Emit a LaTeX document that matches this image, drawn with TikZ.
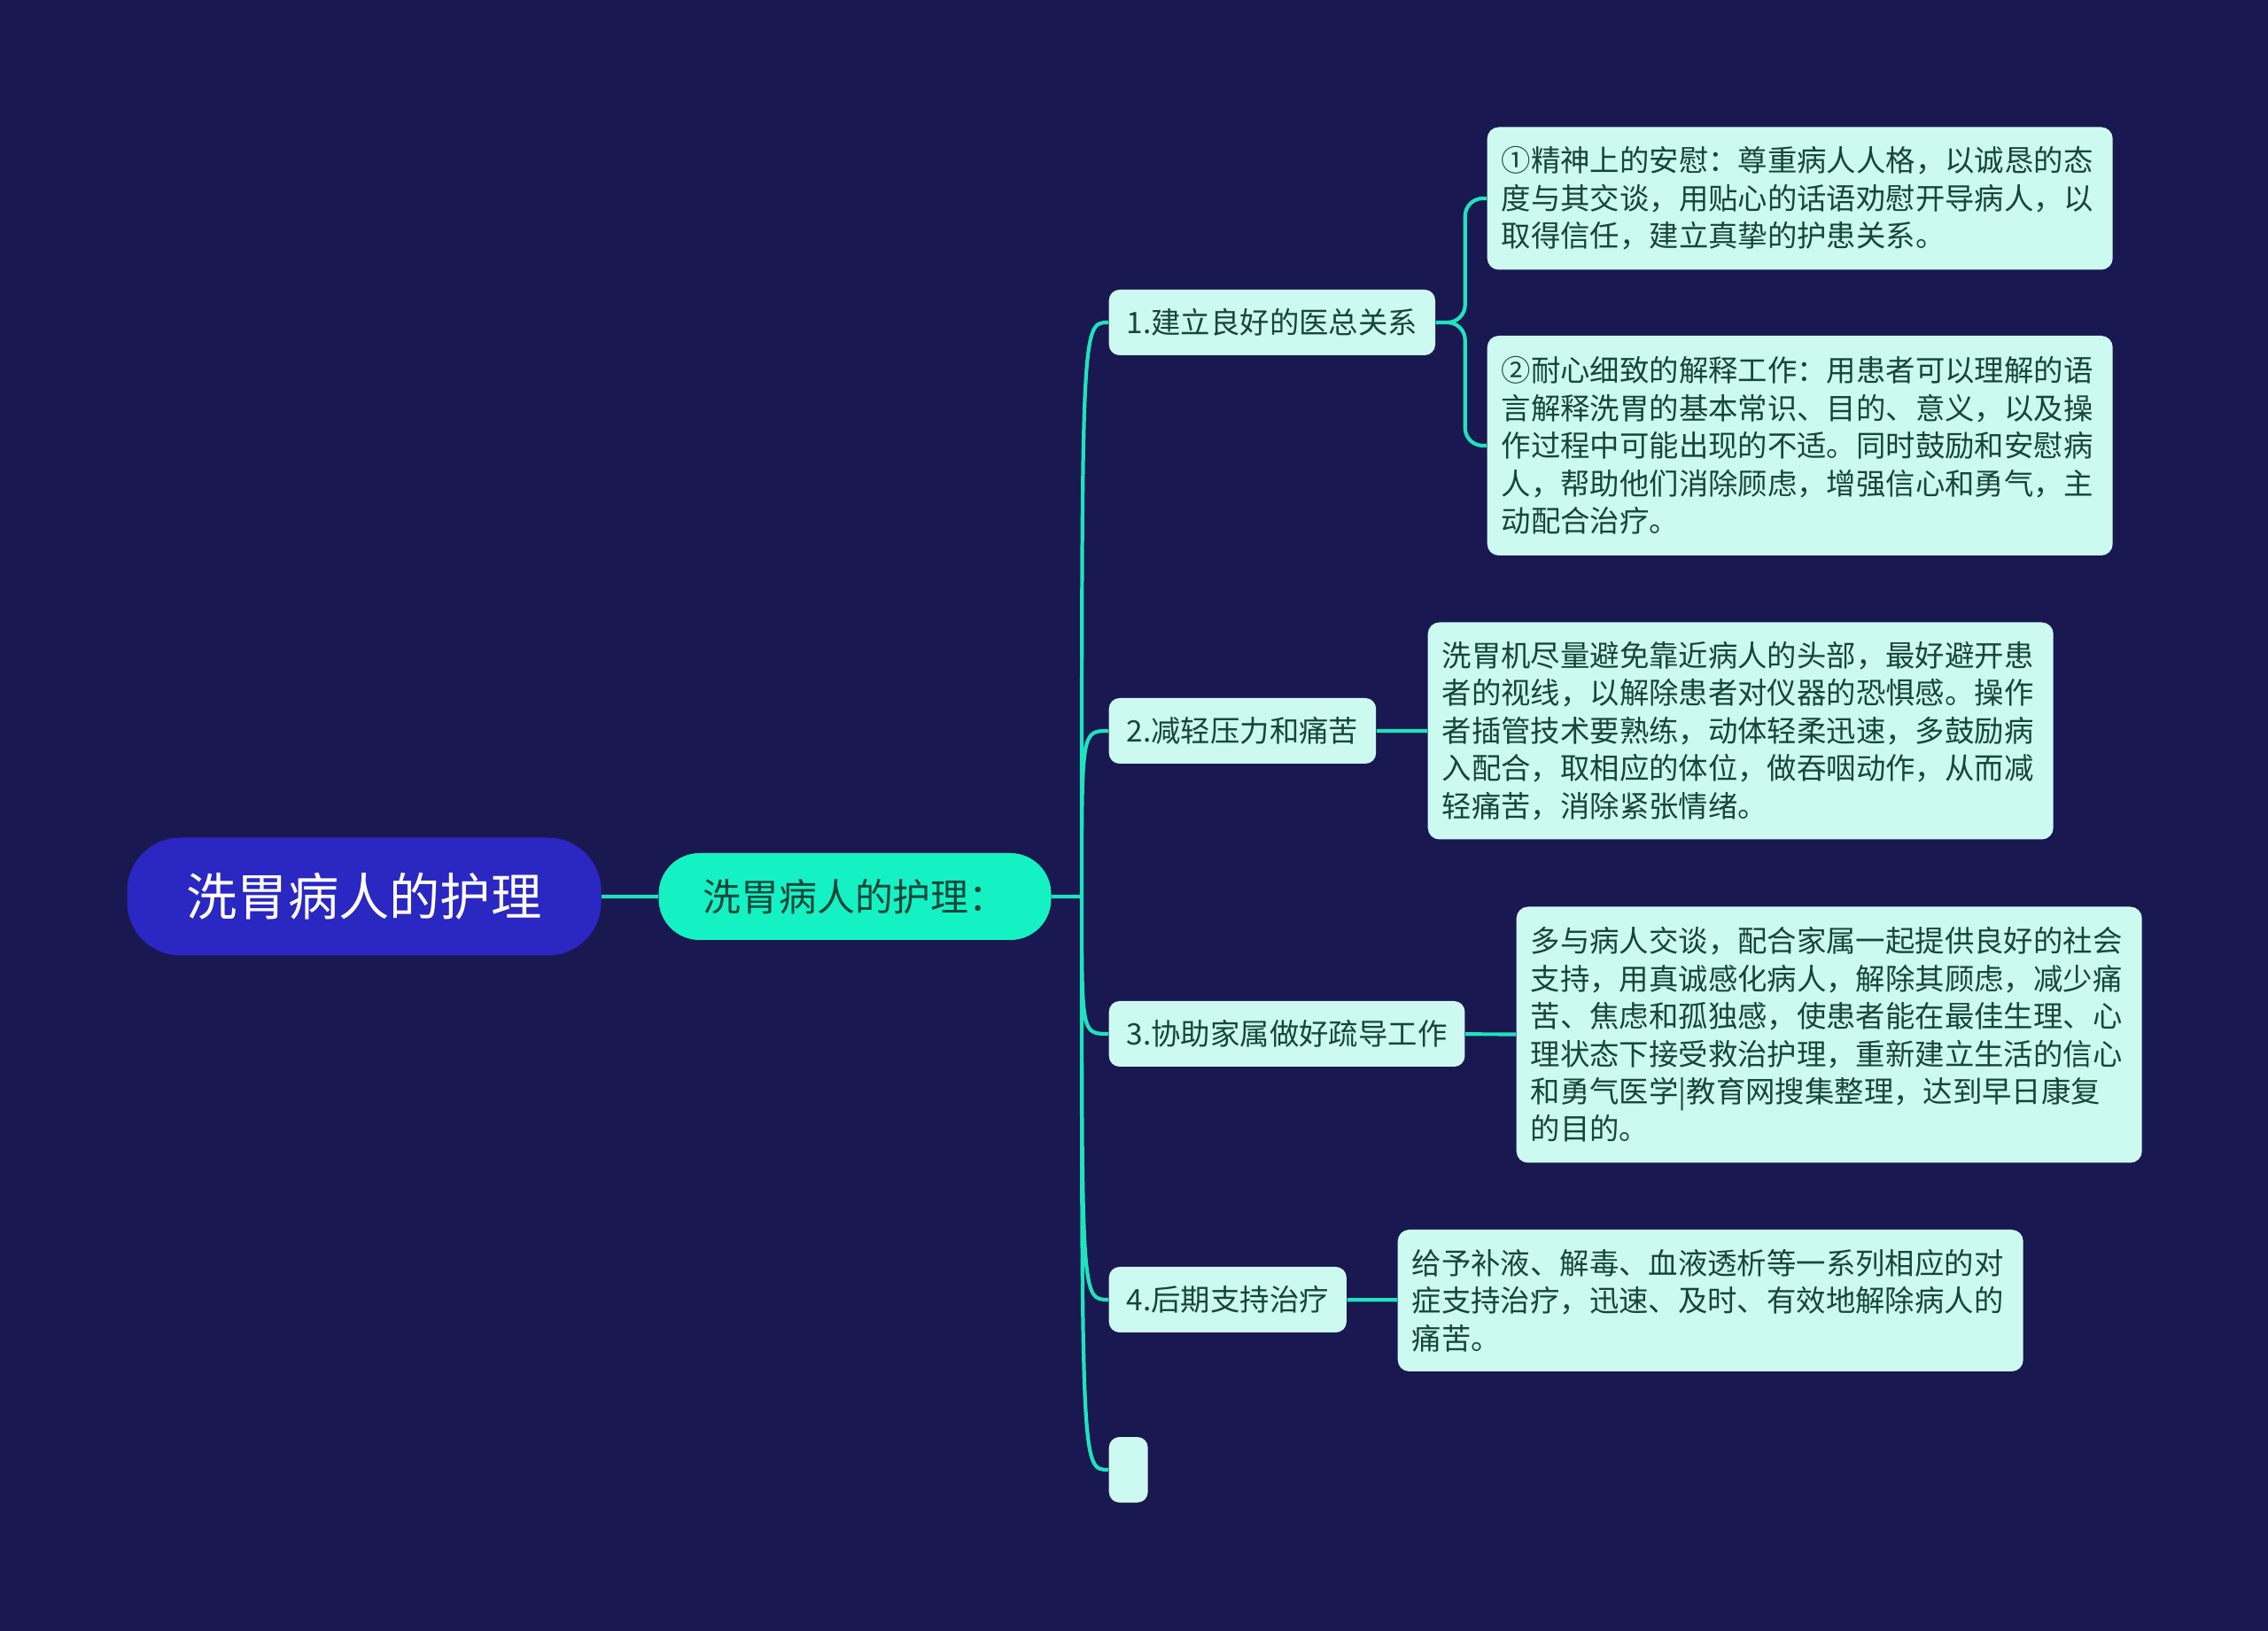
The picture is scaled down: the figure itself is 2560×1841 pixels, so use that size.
\documentclass[tikz,border=0pt]{standalone}
\usepackage{fontspec}
\setmainfont{Noto Sans CJK SC}
\usetikzlibrary{positioning}
\XeTeXlinebreaklocale "zh"

\definecolor{bg}{HTML}{1A1850}
\definecolor{rootblue}{HTML}{2A27C2}
\definecolor{maingreen}{HTML}{14F2C4}
\definecolor{mint}{HTML}{CDFAF0}
\definecolor{ink}{HTML}{16463A}
\definecolor{linkgreen}{HTML}{1FE3BE}

\begin{document}
\begin{tikzpicture}[x=0.1mm, y=-0.1mm,
	rootnode/.style={fill=rootblue, text=white, rounded corners=6mm, minimum width=53.5mm, minimum height=13.3mm, font=\fontsize{16.3}{20}\selectfont},
	mainnode/.style={fill=maingreen, text=ink, rounded corners=4.6mm, minimum width=44.3mm, minimum height=9.8mm, font=\fontsize{12.2}{14}\selectfont},
	topic/.style={fill=mint, text=ink, rounded corners=1.2mm, inner xsep=2mm, minimum height=7.4mm, anchor=west, font=\fontsize{9.5}{12}\selectfont},
	note/.style={fill=mint, text=ink, rounded corners=1.3mm, inner xsep=1.6mm, text width=67.4mm, align=left, anchor=west, font=\fontsize{9.5}{12.06}\selectfont},
	link/.style={draw=linkgreen, line width=1.2pt}]
		
		\fill[bg] (0,0) rectangle (2560,1841);
		
		\node[rootnode] (r) at (411,1012) {洗胃病人的护理};
		\node[mainnode] (m) at (965,1012) {洗胃病人的护理：};
		\coordinate (s) at (1221,1012);
		
		\node[topic] (1) at (1251,364) {1.建立良好的医总关系};
		\node[topic] (2) at (1251,825) {2.减轻压力和痛苦};
		\node[topic] (3) at (1251,1167) {3.协助家属做好疏导工作};
		\node[topic] (4) at (1251,1467) {4.后期支持治疗};
		\node[topic, minimum width=4.4mm, inner xsep=0pt] (5) at (1251,1659) {};
		
		\node[note, minimum height=16.1mm] (1a) at (1678,224) {①精神上的安慰：尊重病人人格，以诚恳的态\\度与其交谈，用贴心的话语劝慰开导病人，以\\取得信任，建立真挚的护患关系。};
		\node[note, minimum height=24.8mm] (1b) at (1678,503) {②耐心细致的解释工作：用患者可以理解的语\\言解释洗胃的基本常识、目的、意义，以及操\\作过程中可能出现的不适。同时鼓励和安慰病\\人，帮助他们消除顾虑，增强信心和勇气，主\\动配合治疗。};
		\node[note, minimum height=24.5mm] (2a) at (1611,825) {洗胃机尽量避免靠近病人的头部，最好避开患\\者的视线，以解除患者对仪器的恐惧感。操作\\者插管技术要熟练，动体轻柔迅速，多鼓励病\\入配合，取相应的体位，做吞咽动作，从而减\\轻痛苦，消除紧张情绪。};
		\node[note, minimum height=28.9mm] (3a) at (1711,1168) {多与病人交谈，配合家属一起提供良好的社会\\支持，用真诚感化病人，解除其顾虑，减少痛\\苦、焦虑和孤独感，使患者能在最佳生理、心\\理状态下接受救治护理，重新建立生活的信心\\和勇气医学|教育网搜集整理，达到早日康复\\的目的。};
		\node[note, minimum height=16mm] (4a) at (1577,1468) {给予补液、解毒、血液透析等一系列相应的对\\症支持治疗，迅速、及时、有效地解除病人的\\痛苦。};
		
		\draw[link]
		(r) -- (m)
		(m) -- (s)
		(s) .. controls (s |- 1.west) .. (1.west)
		(s) .. controls (s |- 2.west) .. (2.west)
		(s) .. controls (s |- 3.west) .. (3.west)
		(s) .. controls (s |- 4.west) .. (4.west)
		(s) .. controls (s |- 5.west) .. (5.west)
		(2) -- (2a)
		(3) -- (3a)
		(4) -- (4a);
		
		\draw[link, rounded corners=2mm]
		(1.east) -- ++(33,0) |- (1a.west)
		(1.east) -- ++(33,0) |- (1b.west);
		
		\end{tikzpicture}
\end{document}
